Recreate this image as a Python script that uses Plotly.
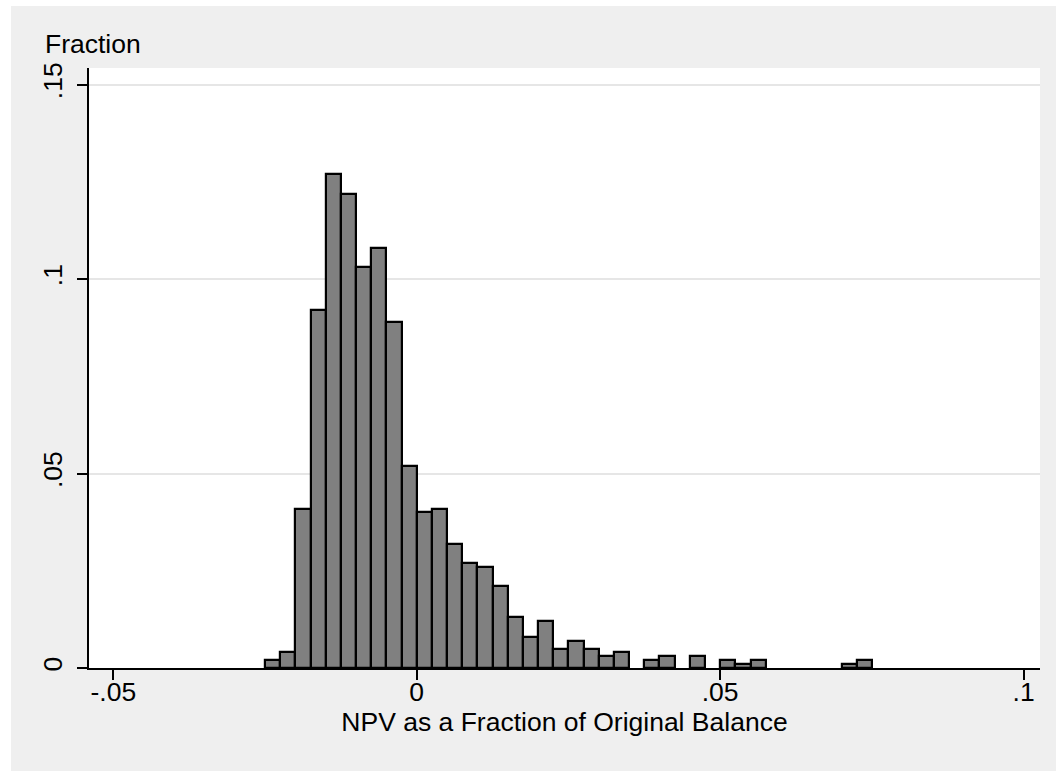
import plotly.graph_objects as go

# Histogram bins (lower edges) and fractions
bin_lower = [-0.025, -0.0225, -0.02, -0.0175, -0.015, -0.0125, -0.01, -0.0075, -0.005, -0.0025,
             0.0, 0.0025, 0.005, 0.0075, 0.01, 0.0125, 0.015, 0.0175, 0.02, 0.0225,
             0.025, 0.0275, 0.03, 0.0325, 0.035, 0.0375, 0.04, 0.0425, 0.045, 0.0475,
             0.05, 0.0525, 0.055, 0.0575, 0.06, 0.0625, 0.065, 0.0675, 0.07, 0.0725]
fraction = [0.002, 0.004, 0.041, 0.092, 0.127, 0.122, 0.103, 0.108, 0.089, 0.052,
            0.040, 0.041, 0.032, 0.027, 0.026, 0.021, 0.013, 0.008, 0.012, 0.005,
            0.007, 0.005, 0.003, 0.004, 0.0, 0.002, 0.003, 0.0, 0.003, 0.0,
            0.002, 0.001, 0.002, 0.0, 0.0, 0.0, 0.0, 0.0, 0.001, 0.002]
bin_width = 0.0025

x_tickvals = [-0.05, 0, 0.05, 0.1]
x_ticktext = ["-.05", "0", ".05", ".1"]
y_tickvals = [0, 0.05, 0.1, 0.15]
y_ticktext = ["0", ".05", ".1", ".15"]

x_title = "NPV as a Fraction of Original Balance"
y_title = "Fraction"

# keep non-empty bins only
xs = [b + bin_width / 2 for b, f in zip(bin_lower, fraction) if f > 0]
ys = [f for f in fraction if f > 0]

FONT = "Liberation Sans, Arial, sans-serif"
FS = 26.5

fig = go.Figure()
fig.add_trace(go.Bar(
    x=xs, y=ys, width=bin_width,
    marker=dict(color="#808080", line=dict(color="black", width=2.2)),
    showlegend=False,
))

W, H = 1056, 771
ml, mr, mt, mb = 89, 16, 68, 103
pw, ph = W - ml - mr, H - mt - mb

def px_x(p):
    return (p - ml) / pw

def px_y(p):
    return 1 - (p - mt) / ph

fig.update_layout(
    width=W, height=H,
    margin=dict(l=ml, r=mr, t=mt, b=mb, pad=0),
    paper_bgcolor="#efefef",
    plot_bgcolor="white",
    font=dict(family=FONT, size=FS, color="black"),
    bargap=0,
    xaxis=dict(
        range=[-0.054, 0.1027],
        tickvals=x_tickvals, ticktext=x_ticktext,
        showgrid=False, zeroline=False,
        showline=True, linecolor="black", linewidth=1.5,
        ticks="outside", ticklen=10, tickwidth=1.5, tickcolor="black",
        tickfont=dict(size=FS),
        ticklabelstandoff=-11,
        title=dict(text=x_title, font=dict(size=FS), standoff=0),
    ),
    yaxis=dict(
        range=[0, 0.1543],
        tickvals=y_tickvals, ticktext=y_ticktext,
        tickangle=-90,
        showgrid=True, gridcolor="#e6e6e6", gridwidth=1.5,
        zeroline=False,
        showline=True, linecolor="black", linewidth=1.5,
        ticks="outside", ticklen=10, tickwidth=1.5, tickcolor="black",
        tickfont=dict(size=FS),
        ticklabelstandoff=5,
    ),
    shapes=[
        dict(type="rect", xref="paper", yref="paper",
             x0=px_x(-5), x1=px_x(11), y0=px_y(H + 5), y1=px_y(-5),
             fillcolor="white", line=dict(width=0)),
        dict(type="rect", xref="paper", yref="paper",
             x0=px_x(-5), x1=px_x(W + 5), y0=px_y(6), y1=px_y(-5),
             fillcolor="white", line=dict(width=0)),
    ],
    annotations=[dict(
        text=y_title, xref="paper", yref="paper",
        x=px_x(43), y=px_y(44), xanchor="left", yanchor="middle",
        showarrow=False, font=dict(size=FS),
    )],
)

fig.write_html("out.html")
